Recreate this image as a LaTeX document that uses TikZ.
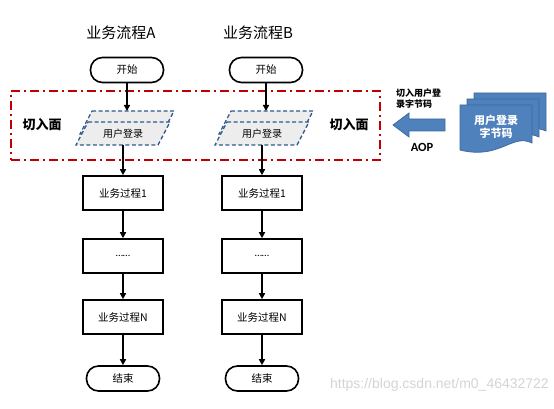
\documentclass[tikz,border=0pt]{standalone}
\usepackage{fontspec}
\setmainfont{Noto Sans CJK SC}
\newfontfamily\latinf{Carlito}
\newfontfamily\wmfont{Liberation Sans}
\usetikzlibrary{arrows.meta}
\definecolor{redline}{HTML}{C00000}
\definecolor{dashblue}{HTML}{2F5B8C}
\definecolor{pfill}{HTML}{EDEDED}
\definecolor{docblue}{HTML}{4F81BD}
\definecolor{docedge}{HTML}{3B6A9E}
\definecolor{wmgray}{HTML}{D4D4D4}
\tikzset{
  titletext/.style={font=\fontsize{15}{18}\selectfont},
  term/.style={draw, line width=1.6pt, rounded corners=12pt, minimum width=73pt, minimum height=25pt, inner sep=0pt, font=\fontsize{10.5}{12}\selectfont},
  proc/.style={draw, line width=1.6pt, minimum width=80pt, minimum height=34pt, inner sep=0pt, font=\fontsize{10.5}{12}\selectfont},
  flow/.style={line width=1.6pt, -{Triangle[length=6pt,width=6pt]}},
  aspectbox/.style={draw=redline, line width=1.5pt, dash pattern=on 9pt off 4pt on 2pt off 4pt, minimum width=369pt, minimum height=69pt, inner sep=0pt},
  pshape/.style={draw=dashblue, fill=pfill, line width=1.3pt, dash pattern=on 4pt off 2.5pt},
  ptext/.style={minimum width=70pt, minimum height=23pt, inner sep=0pt, font=\fontsize{10}{12}\selectfont},
  sidetext/.style={font=\fontsize{13}{15}\selectfont\bfseries},
  docshape/.style={fill=docblue, draw=docedge, line width=0.8pt},
}
\begin{document}
\begin{tikzpicture}[x=1pt,y=-1pt]
\useasboundingbox (0,0) rectangle (554,409);

% titles
\node[titletext] (tA) at (121,33) {业务流程A};
\node[titletext] (tB) at (258,33) {业务流程B};

% aspect plane
\node[aspectbox] (plane) at (195.5,125.5) {};
\node[sidetext] (cutL) at (42,125) {切入面};
\node[sidetext] (cutR) at (349,125) {切入面};

% start nodes
\node[term] (sA) at (127,70) {开始};
\node[term] (sB) at (266,70) {开始};

% parallelogram stacks
\foreach \dx/\n in {0/A,139/B}{
  \begin{scope}[xshift=\dx]
    \draw[pshape] (92,111) -- (174,111) -- (162,134) -- (80,134) -- cycle;
    \draw[pshape] (88,122) -- (170,122) -- (158,145) -- (76,145) -- cycle;
    \node[ptext] (login\n) at (123,133.5) {用户登录};
    \coordinate (ptop\n) at (127,111);
  \end{scope}
}

% process boxes
\node[proc] (p1A) at (123,193) {业务过程1};
\node[proc] (p2A) at (123,256) {\latinf ……};
\node[proc] (pNA) at (123,317) {业务过程N};
\node[term] (eA) at (123,378.5) {结束};
\node[proc] (p1B) at (262,193) {业务过程1};
\node[proc] (p2B) at (262,256) {\latinf ……};
\node[proc] (pNB) at (262,317) {业务过程N};
\node[term] (eB) at (262,378.5) {结束};

% connectors
\foreach \n in {A,B}{
  \draw[flow] (s\n.south) -- (ptop\n);
  \draw[flow] (login\n.south) -- (p1\n.north);
  \draw[flow] (p1\n.south) -- (p2\n.north);
  \draw[flow] (p2\n.south) -- (pN\n.north);
  \draw[flow] (pN\n.south) -- (e\n.north);
}

% AOP arrow
\draw[docshape] (445,119) -- (409,119) -- (409,113) -- (393,125) -- (409,137) -- (409,131) -- (445,131) -- cycle;
\node[font=\fontsize{9}{11}\selectfont\bfseries, align=left, anchor=west, inner sep=0pt] (aoplbl) at (396,98.5) {切入用户登\\录字节码};
\node[font=\latinf\fontsize{12.5}{14}\selectfont\bfseries] (aop) at (422,147) {AOP};

% byte-code document stack
\foreach \ox/\oy in {14/-12,7/-6,0/0}{
  \begin{scope}[shift={(\ox,\oy)}]
    \draw[docshape] (460,105) -- (532,105) -- (532,143) .. controls (512,133) and (500,160) .. (460,150) -- cycle;
  \end{scope}
}
\node[font=\fontsize{11}{13.5}\selectfont\bfseries, text=white, align=center] (doc) at (496,127) {用户登录\\字节码};

% watermark
\node[font=\wmfont\fontsize{14}{16}\selectfont, text=wmgray, anchor=east, inner sep=0pt] (wm) at (549,385) {https://blog.csdn.net/m0\_46432722};
\end{tikzpicture}
\end{document}
